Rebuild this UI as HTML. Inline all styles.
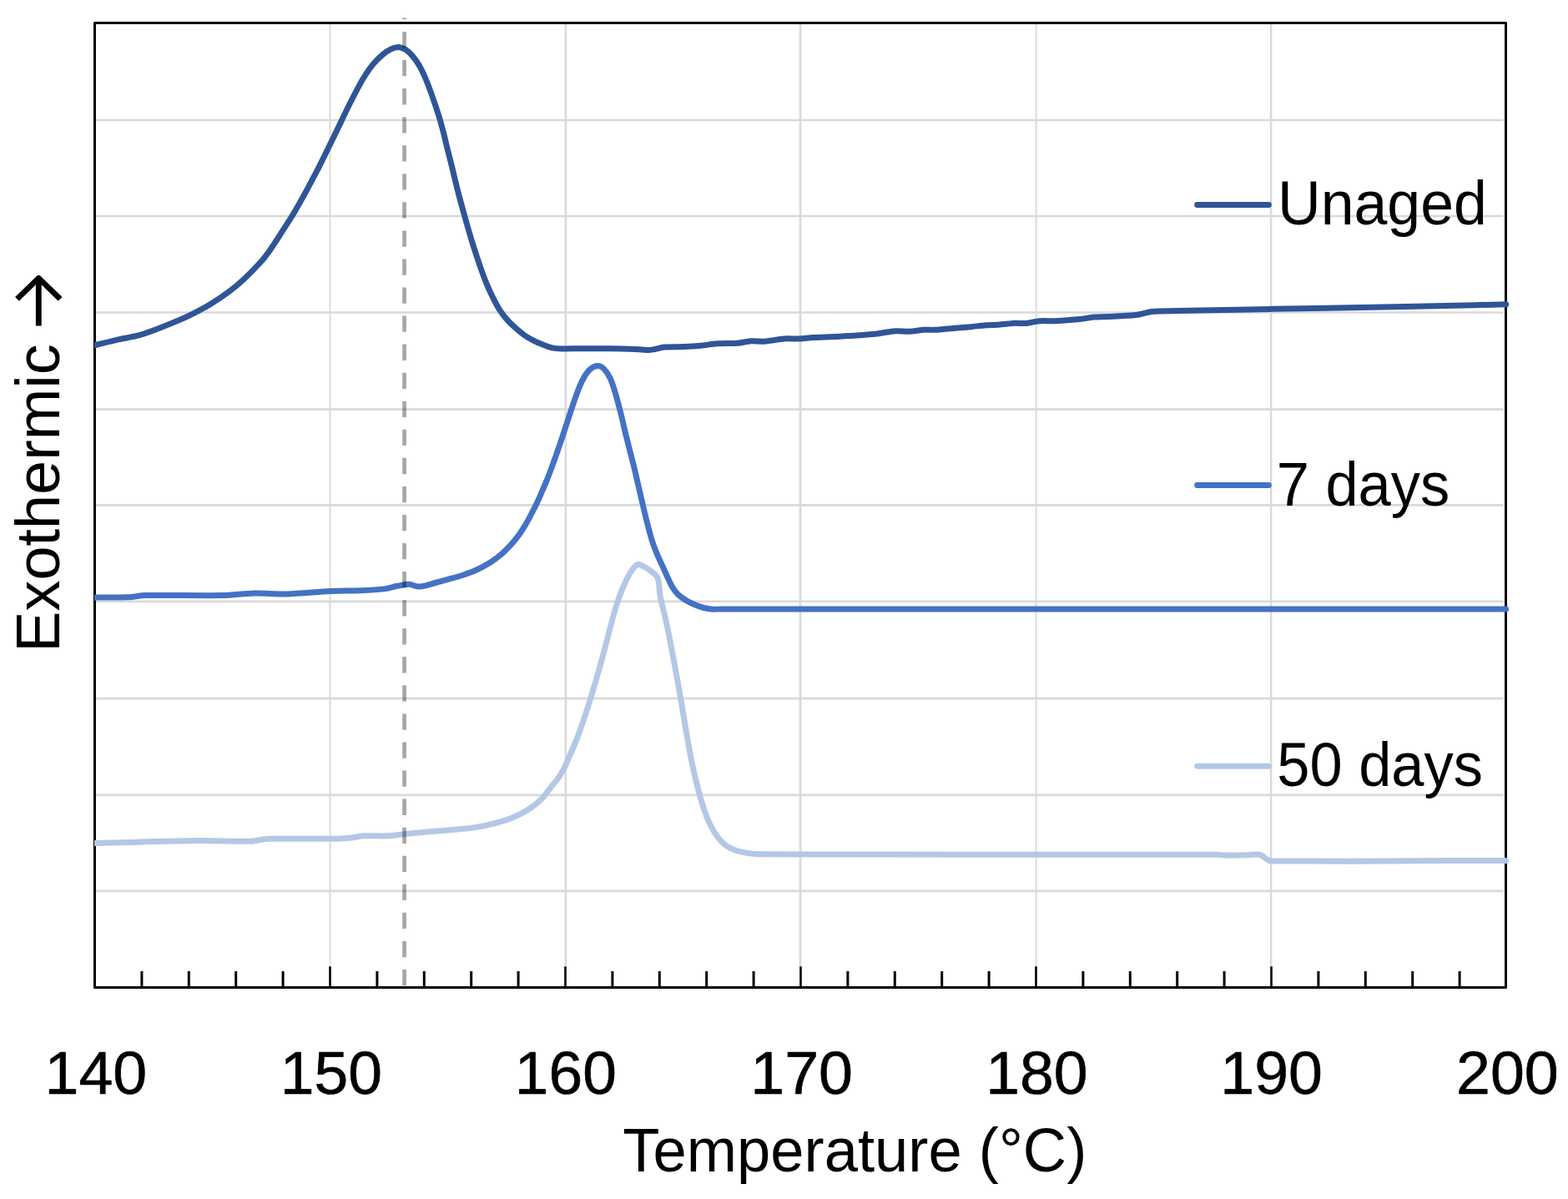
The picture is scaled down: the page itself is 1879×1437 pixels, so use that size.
<!DOCTYPE html>
<html lang="en"><head><meta charset="utf-8"><title>DSC thermograms</title>
<style>html,body{margin:0;padding:0;background:#fff;}body{width:1879px;height:1437px;overflow:hidden;}svg{display:block;}text{font-family:"Liberation Sans",sans-serif;fill:#000;}</style>
</head><body>
<svg width="1879" height="1437" viewBox="0 0 1879 1437">
<rect x="0" y="0" width="1879" height="1437" fill="#fff"/>
<g stroke="#d9d9d9" fill="none">
<line x1="115.0" y1="144.00" x2="1801.9" y2="144.00" stroke-width="2.7"/>
<line x1="115.0" y1="259.00" x2="1801.9" y2="259.00" stroke-width="2.7"/>
<line x1="115.0" y1="374.50" x2="1801.9" y2="374.50" stroke-width="2.7"/>
<line x1="115.0" y1="490.60" x2="1801.9" y2="490.60" stroke-width="2.7"/>
<line x1="115.0" y1="605.40" x2="1801.9" y2="605.40" stroke-width="2.7"/>
<line x1="115.0" y1="720.90" x2="1801.9" y2="720.90" stroke-width="2.7"/>
<line x1="115.0" y1="837.20" x2="1801.9" y2="837.20" stroke-width="2.7"/>
<line x1="115.0" y1="952.90" x2="1801.9" y2="952.90" stroke-width="2.7"/>
<line x1="115.0" y1="1067.90" x2="1801.9" y2="1067.90" stroke-width="2.7"/>
<line x1="395.56" y1="29.0" x2="395.56" y2="1158.5" stroke-width="1.9"/>
<line x1="677.96" y1="29.0" x2="677.96" y2="1158.5" stroke-width="2.5"/>
<line x1="959.07" y1="29.0" x2="959.07" y2="1158.5" stroke-width="2.7"/>
<line x1="1241.65" y1="29.0" x2="1241.65" y2="1158.5" stroke-width="1.9"/>
<line x1="1523.10" y1="29.0" x2="1523.10" y2="1158.5" stroke-width="2.5"/>
</g>
<g stroke="#000" fill="none">
<line x1="169.9" y1="1164.0" x2="169.9" y2="1183.5" stroke-width="3"/>
<line x1="226.3" y1="1164.0" x2="226.3" y2="1183.5" stroke-width="3"/>
<line x1="282.7" y1="1164.0" x2="282.7" y2="1183.5" stroke-width="3"/>
<line x1="339.1" y1="1164.0" x2="339.1" y2="1183.5" stroke-width="3"/>
<line x1="395.5" y1="1158.3" x2="395.5" y2="1183.5" stroke-width="2.6"/>
<line x1="451.9" y1="1164.0" x2="451.9" y2="1183.5" stroke-width="3"/>
<line x1="508.3" y1="1164.0" x2="508.3" y2="1183.5" stroke-width="3"/>
<line x1="564.7" y1="1164.0" x2="564.7" y2="1183.5" stroke-width="3"/>
<line x1="621.1" y1="1164.0" x2="621.1" y2="1183.5" stroke-width="3"/>
<line x1="677.5" y1="1158.3" x2="677.5" y2="1183.5" stroke-width="2.6"/>
<line x1="733.9" y1="1164.0" x2="733.9" y2="1183.5" stroke-width="3"/>
<line x1="790.3" y1="1164.0" x2="790.3" y2="1183.5" stroke-width="3"/>
<line x1="846.7" y1="1164.0" x2="846.7" y2="1183.5" stroke-width="3"/>
<line x1="903.1" y1="1164.0" x2="903.1" y2="1183.5" stroke-width="3"/>
<line x1="959.5" y1="1158.3" x2="959.5" y2="1183.5" stroke-width="2.6"/>
<line x1="1015.9" y1="1164.0" x2="1015.9" y2="1183.5" stroke-width="3"/>
<line x1="1072.3" y1="1164.0" x2="1072.3" y2="1183.5" stroke-width="3"/>
<line x1="1128.7" y1="1164.0" x2="1128.7" y2="1183.5" stroke-width="3"/>
<line x1="1185.1" y1="1164.0" x2="1185.1" y2="1183.5" stroke-width="3"/>
<line x1="1241.5" y1="1158.3" x2="1241.5" y2="1183.5" stroke-width="2.6"/>
<line x1="1297.9" y1="1164.0" x2="1297.9" y2="1183.5" stroke-width="3"/>
<line x1="1354.3" y1="1164.0" x2="1354.3" y2="1183.5" stroke-width="3"/>
<line x1="1410.7" y1="1164.0" x2="1410.7" y2="1183.5" stroke-width="3"/>
<line x1="1467.1" y1="1164.0" x2="1467.1" y2="1183.5" stroke-width="3"/>
<line x1="1523.5" y1="1158.3" x2="1523.5" y2="1183.5" stroke-width="2.6"/>
<line x1="1579.9" y1="1164.0" x2="1579.9" y2="1183.5" stroke-width="3"/>
<line x1="1636.3" y1="1164.0" x2="1636.3" y2="1183.5" stroke-width="3"/>
<line x1="1692.7" y1="1164.0" x2="1692.7" y2="1183.5" stroke-width="3"/>
<line x1="1749.1" y1="1164.0" x2="1749.1" y2="1183.5" stroke-width="3"/>
</g>
<rect x="113.5" y="27.5" width="1691.0" height="1156.0" fill="none" stroke="#000" stroke-width="3" stroke-linejoin="round"/>
<clipPath id="pc"><rect x="113" y="0" width="1766" height="1437"/></clipPath>
<g clip-path="url(#pc)" fill="none" stroke-width="7.0" stroke-linecap="round" stroke-linejoin="round">
<path d="M108.0 1010.7C109.5 1010.7 113.8 1010.6 116.7 1010.5C122.5 1010.4 134.3 1010.1 143.1 1009.9C163.3 1009.4 211.6 1007.9 237.9 1007.6C259.0 1007.4 287.3 1008.6 301.2 1008.2C308.0 1008.0 314.5 1005.5 321.3 1005.3C337.6 1004.8 382.1 1005.5 398.9 1005.3C406.6 1005.2 415.7 1004.5 421.9 1003.9C426.7 1003.4 431.4 1002.0 436.2 1001.8C443.4 1001.4 456.9 1002.2 465.0 1001.8C471.7 1001.5 478.4 1000.2 485.1 999.5C493.7 998.6 508.6 997.3 516.7 996.6C522.4 996.1 528.0 995.7 533.7 995.2C539.4 994.7 545.0 994.3 550.7 993.8C556.4 993.3 562.8 992.6 567.8 991.9C572.1 991.3 576.3 990.5 580.5 989.6C585.4 988.6 591.6 987.3 597.0 985.7C602.6 984.1 608.6 982.3 614.1 980.0C619.8 977.7 626.1 974.5 631.1 971.5C635.6 968.8 640.5 965.1 643.9 962.3C646.7 960.0 649.5 957.1 651.6 954.7C653.5 952.6 655.0 950.1 656.7 947.9C658.4 945.7 660.1 943.6 661.8 941.4C663.6 939.1 665.9 936.7 667.7 934.2C669.7 931.4 671.9 928.2 673.7 925.0C675.6 921.8 677.2 918.2 678.8 914.8C680.3 911.6 681.7 908.2 683.1 904.9C684.5 901.7 686.0 898.1 687.3 895.1C688.4 892.4 689.6 889.6 690.7 887.0C691.7 884.4 692.8 881.8 693.7 879.2C695.2 874.8 698.0 867.1 700.0 861.0C702.2 854.3 704.9 846.0 707.2 838.8C709.4 831.7 711.5 824.6 713.6 817.5C715.7 810.1 717.9 802.4 720.0 794.8C722.1 787.1 724.5 778.0 726.4 770.9C728.1 764.5 729.7 757.9 731.3 751.8C732.9 745.9 734.5 739.7 736.1 734.1C737.6 729.0 739.1 723.9 740.9 718.8C742.8 713.5 745.2 707.0 747.3 702.1C749.2 697.7 751.6 692.9 753.7 689.2C755.6 685.9 758.2 681.7 760.1 679.6C761.4 678.2 763.0 676.5 764.9 676.4C766.8 676.3 769.3 677.8 771.3 678.8C773.4 679.9 775.6 681.4 777.7 682.8C779.8 684.3 782.4 686.0 784.1 687.6C785.6 689.0 787.3 690.5 788.1 692.4C789.0 694.5 789.3 697.7 789.7 700.4C790.1 703.3 790.1 706.8 790.5 710.0C790.9 713.2 791.4 716.4 792.1 719.6C793.2 724.4 795.4 732.4 796.9 738.9C798.5 745.9 800.2 753.9 801.7 761.5C803.3 769.5 804.9 778.3 806.5 786.7C808.1 795.1 809.7 803.8 811.3 812.4C812.9 821.2 814.6 831.0 816.1 839.5C817.5 847.5 818.7 855.6 820.1 863.6C821.6 872.3 823.3 882.7 824.9 891.5C826.4 899.8 828.1 908.8 829.7 916.5C831.2 923.6 832.8 930.7 834.5 937.7C836.2 944.7 838.2 952.3 840.1 958.6C841.8 964.4 843.7 970.5 845.7 975.8C847.6 980.8 849.7 985.9 852.1 990.4C854.4 994.9 857.4 999.8 860.1 1003.3C862.4 1006.5 865.2 1009.5 868.1 1011.9C871.0 1014.2 874.3 1016.1 877.7 1017.6C881.2 1019.2 885.1 1020.3 888.9 1021.2C892.9 1022.1 897.5 1022.9 901.8 1023.3C907.0 1023.7 913.9 1023.8 920.0 1023.8C936.4 1023.9 973.3 1024.0 1000.0 1024.0C1076.7 1024.1 1303.4 1024.2 1380.0 1024.3C1406.5 1024.3 1445.2 1024.2 1459.6 1024.3C1461.9 1024.3 1464.3 1025.0 1466.6 1025.0C1472.4 1025.1 1487.9 1025.0 1494.7 1024.8C1499.0 1024.7 1504.5 1023.7 1507.6 1023.9C1509.7 1024.1 1511.7 1025.1 1513.5 1026.2C1515.7 1027.5 1517.8 1030.4 1520.5 1031.4C1523.2 1032.4 1526.8 1032.0 1530.0 1032.0C1537.8 1032.1 1554.9 1032.1 1567.3 1032.1C1589.1 1032.1 1633.7 1032.2 1661.0 1032.1C1684.4 1032.0 1707.8 1031.7 1731.2 1031.6C1755.1 1031.5 1792.4 1031.6 1804.6 1031.6" stroke="#b4c7e7"/>
<path d="M108.0 716.2C109.5 716.2 113.8 716.1 116.7 716.1C124.1 716.0 142.9 716.2 152.6 715.8C160.0 715.5 167.3 713.7 174.7 713.6C193.6 713.2 244.3 714.0 266.0 713.6C279.0 713.4 291.9 711.4 304.8 711.1C317.7 710.8 330.6 712.4 343.5 712.0C358.7 711.6 381.3 709.3 396.1 708.6C408.1 708.0 421.5 708.2 432.1 707.8C441.3 707.4 452.4 706.8 459.8 705.9C465.4 705.2 471.3 703.2 476.4 702.3C481.0 701.5 485.8 700.2 490.2 700.3C494.5 700.4 498.4 703.3 502.7 703.1C507.7 702.9 514.3 700.5 520.0 699.0C525.7 697.5 531.3 695.9 537.0 694.3C542.7 692.8 548.5 691.4 554.1 689.5C559.8 687.6 565.6 685.6 571.1 683.0C576.8 680.4 583.1 676.8 588.1 673.7C592.6 670.8 597.1 667.4 600.9 664.1C604.5 661.0 607.9 657.7 611.1 654.2C614.4 650.7 617.6 646.8 620.5 642.9C623.5 638.9 626.3 634.5 629.0 630.1C631.7 625.7 634.4 620.5 636.7 616.2C638.8 612.2 640.9 608.1 642.7 604.3C644.5 600.6 646.2 596.9 647.8 593.1C649.8 588.6 652.3 582.6 654.5 577.4C656.7 572.0 658.9 566.5 660.9 560.9C663.3 554.5 666.5 545.4 668.9 538.4C671.1 532.1 673.2 525.7 675.3 519.4C677.4 513.0 679.6 506.4 681.7 499.9C683.8 493.5 686.0 486.8 688.1 480.7C690.1 474.9 692.4 468.4 694.5 463.4C696.4 458.9 698.8 453.9 700.9 450.4C702.7 447.5 704.8 444.4 707.3 442.4C709.8 440.4 713.4 438.5 716.1 438.4C718.7 438.3 721.4 439.7 723.3 441.6C725.8 444.1 729.3 449.3 731.3 453.6C733.7 458.7 735.8 465.9 737.7 472.2C739.8 479.2 742.1 488.1 744.1 496.0C746.1 503.9 747.8 512.1 749.7 519.8C751.5 527.2 753.6 535.3 755.3 542.1C756.9 548.4 758.6 554.7 760.1 561.0C761.7 567.6 763.3 574.8 764.9 581.7C766.5 588.6 768.1 595.5 769.7 602.3C771.3 609.0 772.8 615.8 774.5 622.5C776.4 629.9 778.8 639.6 780.9 646.5C782.7 652.4 784.9 658.2 787.3 663.9C789.7 669.7 792.9 676.2 795.3 681.5C797.4 686.2 799.8 691.6 801.7 695.5C803.2 698.7 804.6 702.0 806.5 704.9C808.3 707.7 810.4 710.5 812.9 712.8C815.6 715.2 819.3 717.7 822.5 719.7C825.6 721.6 828.8 723.1 832.1 724.5C835.6 726.0 839.6 727.5 843.3 728.5C847.0 729.4 851.0 729.9 854.5 730.2C857.7 730.4 860.9 730.0 864.1 730.0C888.4 730.0 954.7 730.0 1000.0 730.0C1156.8 730.0 1670.5 730.0 1804.6 730.0" stroke="#4472c4"/>
<path d="M108.0 415.1C109.5 414.8 113.8 413.7 116.7 413.0C122.0 411.7 132.2 409.0 140.0 407.3C148.4 405.4 158.3 404.2 167.2 401.7C176.5 399.0 186.6 395.0 196.1 391.3C205.7 387.5 216.1 383.3 224.9 379.2C233.1 375.3 241.1 371.2 248.9 366.6C257.2 361.6 267.3 354.8 274.5 349.5C280.7 344.9 286.5 339.9 292.1 334.7C298.5 328.7 307.6 319.4 312.9 313.5C317.0 308.9 320.6 304.0 324.1 299.0C328.6 292.5 335.6 281.5 340.1 274.4C343.9 268.6 347.7 262.8 351.3 256.8C355.0 250.6 359.0 243.4 362.5 237.1C365.8 231.3 368.9 225.3 372.1 219.4C375.4 213.1 379.1 206.2 382.5 199.6C386.8 191.1 393.6 177.2 398.0 168.1C401.8 160.4 405.7 152.1 409.2 144.9C412.4 138.2 415.5 131.5 418.8 125.0C422.3 118.0 426.8 109.2 430.0 103.3C432.5 98.6 435.1 94.0 438.0 89.6C440.9 85.1 444.2 80.4 447.7 76.3C451.1 72.3 455.4 68.1 458.9 65.2C461.8 62.7 465.4 60.3 468.5 58.8C471.2 57.5 474.4 56.3 477.3 56.4C480.2 56.5 483.4 58.0 486.1 59.6C488.9 61.3 491.7 64.1 494.1 66.8C496.8 69.9 499.8 74.0 502.1 78.0C504.8 82.6 507.7 88.8 510.1 94.5C512.8 100.8 515.6 108.5 518.1 115.6C520.8 123.2 523.8 132.3 526.1 139.6C528.2 146.3 530.1 153.7 531.7 159.9C533.1 165.4 534.3 171.0 535.7 176.5C537.3 183.0 539.6 191.7 541.3 198.7C542.9 205.4 544.6 212.7 546.1 218.7C547.4 223.9 548.7 229.2 550.1 234.5C551.8 241.0 554.3 250.1 556.5 257.9C558.8 266.2 561.7 276.5 564.0 284.2C566.0 291.0 568.3 297.9 570.4 304.5C572.5 310.8 574.7 317.5 576.8 323.4C578.8 329.1 580.9 334.8 583.2 340.3C585.6 346.0 588.5 352.3 591.2 357.6C593.7 362.6 596.5 368.0 599.2 372.2C601.6 375.9 604.3 379.3 607.2 382.6C610.1 385.9 613.4 389.2 616.8 392.2C620.3 395.4 624.2 398.8 628.0 401.5C631.6 404.0 635.4 406.2 639.3 408.2C643.3 410.3 648.4 412.3 652.1 413.7C655.2 414.9 658.4 416.2 661.7 416.9C665.2 417.6 669.1 417.9 672.9 418.0C679.3 418.1 691.0 417.7 700.1 417.7C710.0 417.6 722.0 417.6 732.1 417.7C741.7 417.8 753.4 418.2 760.9 418.5C766.2 418.7 772.9 419.6 776.9 419.6C779.6 419.6 782.3 419.0 784.9 418.5C788.1 417.9 792.3 416.4 796.1 416.1C802.0 415.6 812.8 415.8 820.1 415.5C826.7 415.2 833.4 414.8 840.0 414.2C846.6 413.6 853.2 412.2 859.9 411.8C867.2 411.3 877.2 411.8 883.9 411.3C889.3 410.9 894.5 409.1 899.8 408.7C905.1 408.3 910.5 409.6 915.8 409.2C922.4 408.8 932.6 406.5 939.7 406.0C945.9 405.5 952.6 406.3 958.4 406.0C963.7 405.8 969.0 404.7 974.3 404.4C982.3 403.9 995.6 403.9 1006.3 403.3C1019.2 402.6 1040.4 401.0 1051.5 399.9C1058.6 399.2 1066.6 397.1 1072.8 396.7C1078.1 396.3 1083.5 397.4 1088.8 397.2C1094.6 397.0 1102.1 395.6 1107.4 395.3C1111.8 395.0 1116.3 395.6 1120.7 395.3C1129.6 394.7 1150.4 392.8 1160.6 391.9C1167.7 391.3 1176.1 390.2 1181.9 389.8C1186.3 389.5 1190.8 389.5 1195.2 389.2C1200.5 388.8 1208.0 387.7 1213.8 387.4C1219.1 387.1 1224.5 387.8 1229.8 387.4C1235.1 386.9 1240.4 385.1 1245.8 384.7C1251.6 384.2 1258.2 385.0 1264.4 384.7C1272.4 384.4 1285.9 383.4 1293.7 382.6C1299.5 382.0 1305.4 380.6 1311.1 380.1C1316.6 379.6 1322.2 379.8 1327.7 379.5C1336.0 379.1 1352.1 378.6 1360.9 377.6C1367.5 376.8 1373.7 374.1 1380.3 373.4C1388.6 372.6 1400.6 372.8 1410.7 372.6C1434.2 372.1 1484.5 371.1 1521.4 370.4C1558.3 369.7 1595.2 369.1 1632.1 368.4C1669.0 367.7 1714.0 366.8 1742.8 366.2C1763.4 365.8 1794.3 365.0 1804.6 364.8" stroke="#2f5597"/>
</g>
<line x1="484.55" y1="21.4" x2="484.55" y2="1183" stroke="#000" stroke-opacity="0.35" stroke-width="4.7" stroke-dasharray="19.3 14.76" stroke-dashoffset="17.50"/>
<line x1="1434.6" y1="245.5" x2="1520.4" y2="245.5" stroke="#2f5597" stroke-width="6.9" stroke-linecap="round"/>
<line x1="1434.6" y1="581.5" x2="1520.4" y2="581.5" stroke="#4472c4" stroke-width="6.9" stroke-linecap="round"/>
<line x1="1434.6" y1="918.2" x2="1520.4" y2="918.2" stroke="#b4c7e7" stroke-width="6.9" stroke-linecap="round"/>
<text id="t140" x="53.49" y="1311.40" font-size="72.60" textLength="122.77" lengthAdjust="spacingAndGlyphs" stroke="#000" stroke-width="0.60" stroke-linejoin="round">140</text>
<text id="t150" x="335.67" y="1311.40" font-size="72.60" textLength="122.26" lengthAdjust="spacingAndGlyphs" stroke="#000" stroke-width="0.60" stroke-linejoin="round">150</text>
<text id="t160" x="616.79" y="1311.40" font-size="72.60" textLength="122.10" lengthAdjust="spacingAndGlyphs" stroke="#000" stroke-width="0.60" stroke-linejoin="round">160</text>
<text id="t170" x="899.18" y="1311.40" font-size="72.60" textLength="122.92" lengthAdjust="spacingAndGlyphs" stroke="#000" stroke-width="0.60" stroke-linejoin="round">170</text>
<text id="t180" x="1181.19" y="1311.40" font-size="72.60" textLength="122.50" lengthAdjust="spacingAndGlyphs" stroke="#000" stroke-width="0.60" stroke-linejoin="round">180</text>
<text id="t190" x="1462.39" y="1311.40" font-size="72.60" textLength="122.63" lengthAdjust="spacingAndGlyphs" stroke="#000" stroke-width="0.60" stroke-linejoin="round">190</text>
<text id="t200" x="1745.06" y="1311.40" font-size="72.60" textLength="122.70" lengthAdjust="spacingAndGlyphs" stroke="#000" stroke-width="0.60" stroke-linejoin="round">200</text>
<text id="xt" x="746.35" y="1404.40" font-size="73.50" textLength="555.90" lengthAdjust="spacingAndGlyphs">Temperature (°C)</text>
<text id="l1" x="1530.92" y="269.40" font-size="73.50" textLength="250.95" lengthAdjust="spacingAndGlyphs">Unaged</text>
<text id="l2" x="1529.78" y="605.60" font-size="73.50" textLength="207.40" lengthAdjust="spacingAndGlyphs">7 days</text>
<text id="l3" x="1530.24" y="941.60" font-size="73.50" textLength="246.75" lengthAdjust="spacingAndGlyphs">50 days</text>
<text id="yt" transform="translate(70.60 780.00) rotate(-90)" x="-1.77" y="0.00" font-size="73.50" textLength="369.45" lengthAdjust="spacingAndGlyphs">Exothermic</text>
<clipPath id="ac"><rect x="0" y="328.00" width="113" height="62.40"/></clipPath>
<g clip-path="url(#ac)"><text id="arrow" transform="translate(90.00 437.25) rotate(-90) scale(1.0000 1.0300)" x="0" y="0" font-size="136.00" style="font-family:'DejaVu Sans Light','DejaVu Sans',sans-serif;font-weight:200">→</text></g>
</svg></body></html>
